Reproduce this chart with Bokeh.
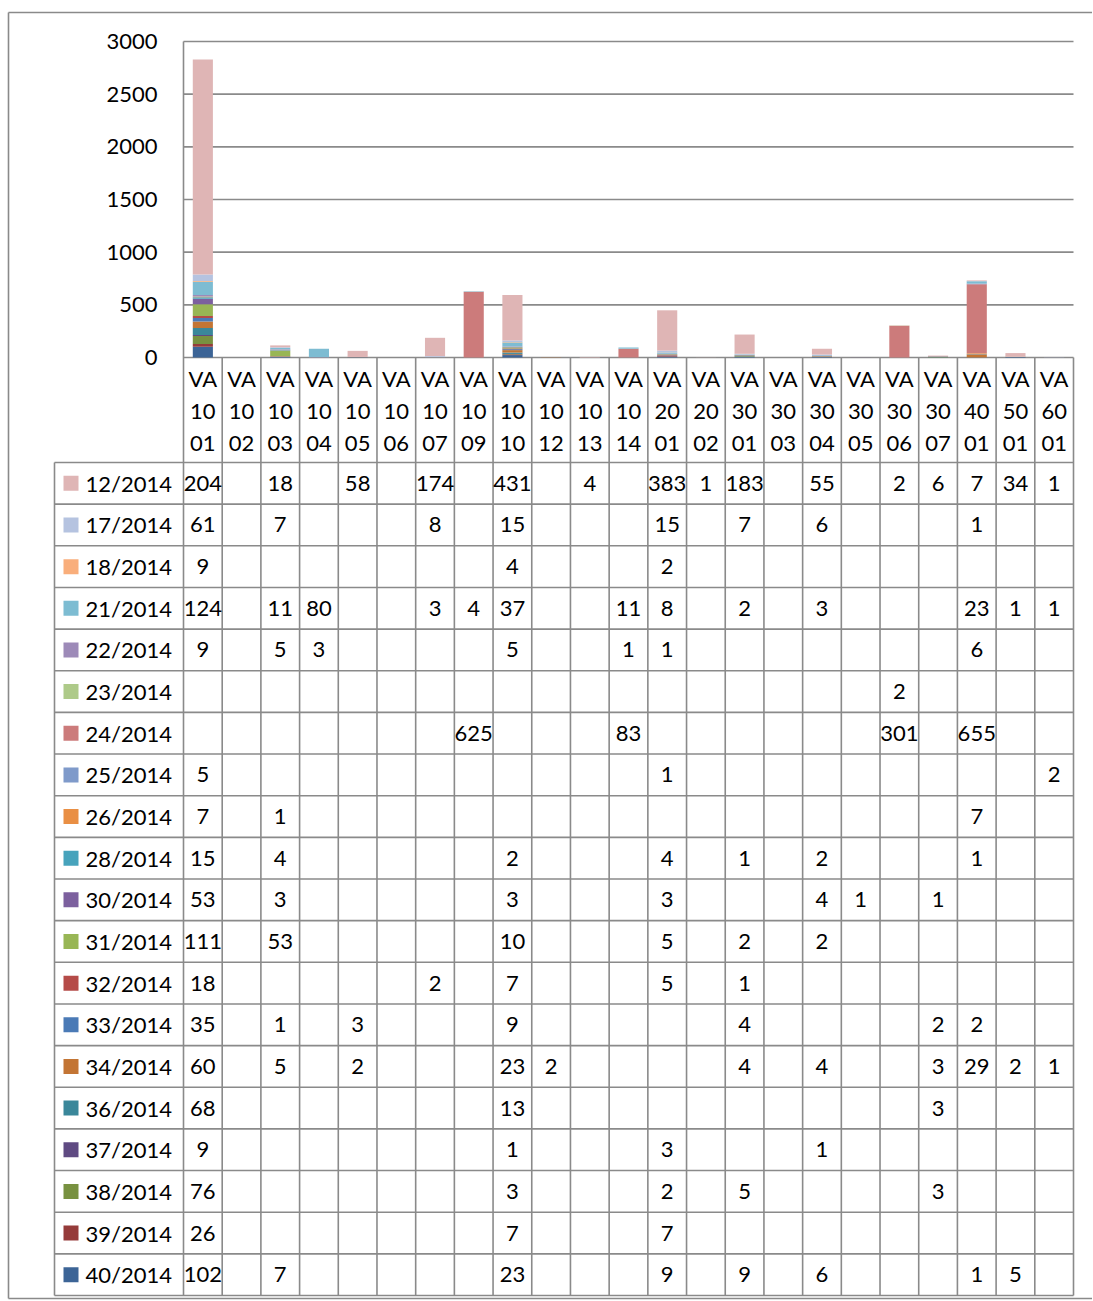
from bokeh.plotting import figure
from bokeh.models import ColumnDataSource, FixedTicker, Range1d
from bokeh.embed import file_html
from bokeh.resources import INLINE
from bokeh.core.properties import value

# ---------------- data ----------------
categories = ["VA1001", "VA1002", "VA1003", "VA1004", "VA1005", "VA1006", "VA1007",
              "VA1009", "VA1010", "VA1012", "VA1013", "VA1014", "VA2001", "VA2002",
              "VA3001", "VA3003", "VA3004", "VA3005", "VA3006", "VA3007", "VA4001",
              "VA5001", "VA6001"]

series_names = ["12/2014", "17/2014", "18/2014", "21/2014", "22/2014", "23/2014",
                "24/2014", "25/2014", "26/2014", "28/2014", "30/2014", "31/2014",
                "32/2014", "33/2014", "34/2014", "36/2014", "37/2014", "38/2014",
                "39/2014", "40/2014"]

w12 = [2040, 0, 18, 0, 58, 0, 174, 0, 431, 0, 4, 0, 383, 1, 183, 0, 55, 0, 2, 6, 7, 34, 1]
w17 = [61, 0, 7, 0, 0, 0, 8, 0, 15, 0, 0, 0, 15, 0, 7, 0, 6, 0, 0, 0, 1, 0, 0]
w18 = [9, 0, 0, 0, 0, 0, 0, 0, 4, 0, 0, 0, 2, 0, 0, 0, 0, 0, 0, 0, 0, 0, 0]
w21 = [124, 0, 11, 80, 0, 0, 3, 4, 37, 0, 0, 11, 8, 0, 2, 0, 3, 0, 0, 0, 23, 1, 1]
w22 = [9, 0, 5, 3, 0, 0, 0, 0, 5, 0, 0, 1, 1, 0, 0, 0, 0, 0, 0, 0, 6, 0, 0]
w23 = [0, 0, 0, 0, 0, 0, 0, 0, 0, 0, 0, 0, 0, 0, 0, 0, 0, 0, 2, 0, 0, 0, 0]
w24 = [0, 0, 0, 0, 0, 0, 0, 625, 0, 0, 0, 83, 0, 0, 0, 0, 0, 0, 301, 0, 655, 0, 0]
w25 = [5, 0, 0, 0, 0, 0, 0, 0, 0, 0, 0, 0, 1, 0, 0, 0, 0, 0, 0, 0, 0, 0, 2]
w26 = [7, 0, 1, 0, 0, 0, 0, 0, 0, 0, 0, 0, 0, 0, 0, 0, 0, 0, 0, 0, 7, 0, 0]
w28 = [15, 0, 4, 0, 0, 0, 0, 0, 2, 0, 0, 0, 4, 0, 1, 0, 2, 0, 0, 0, 1, 0, 0]
w30 = [53, 0, 3, 0, 0, 0, 0, 0, 3, 0, 0, 0, 3, 0, 0, 0, 4, 1, 0, 1, 0, 0, 0]
w31 = [111, 0, 53, 0, 0, 0, 0, 0, 10, 0, 0, 0, 5, 0, 2, 0, 2, 0, 0, 0, 0, 0, 0]
w32 = [18, 0, 0, 0, 0, 0, 2, 0, 7, 0, 0, 0, 5, 0, 1, 0, 0, 0, 0, 0, 0, 0, 0]
w33 = [35, 0, 1, 0, 3, 0, 0, 0, 9, 0, 0, 0, 0, 0, 4, 0, 0, 0, 0, 2, 2, 0, 0]
w34 = [60, 0, 5, 0, 2, 0, 0, 0, 23, 2, 0, 0, 0, 0, 4, 0, 4, 0, 0, 3, 29, 2, 1]
w36 = [68, 0, 0, 0, 0, 0, 0, 0, 13, 0, 0, 0, 0, 0, 0, 0, 0, 0, 0, 3, 0, 0, 0]
w37 = [9, 0, 0, 0, 0, 0, 0, 0, 1, 0, 0, 0, 3, 0, 0, 0, 1, 0, 0, 0, 0, 0, 0]
w38 = [76, 0, 0, 0, 0, 0, 0, 0, 3, 0, 0, 0, 2, 0, 5, 0, 0, 0, 0, 3, 0, 0, 0]
w39 = [26, 0, 0, 0, 0, 0, 0, 0, 7, 0, 0, 0, 7, 0, 0, 0, 0, 0, 0, 0, 0, 0, 0]
w40 = [102, 0, 7, 0, 0, 0, 0, 0, 23, 0, 0, 0, 9, 0, 9, 0, 6, 0, 0, 0, 1, 5, 0]

series_values = [w12, w17, w18, w21, w22, w23, w24, w25, w26, w28, w30, w31,
                 w32, w33, w34, w36, w37, w38, w39, w40]

colors = ["#DFB5B5", "#B5C3E0", "#F9AE7B", "#7DBCD2", "#9D8AB8", "#AECA89",
          "#CC7B7B", "#7F9ACA", "#E98F44", "#47A3BC", "#7C609E", "#98B655",
          "#B54B48", "#4A7AB6", "#C37534", "#3A879A", "#5F4A82", "#789140",
          "#953B3A", "#3C6496"]

y_ticks = [0, 500, 1000, 1500, 2000, 2500, 3000]

# ---------------- layout constants (page pixels) ----------------
FONT = value("Lato")
FS = "22px"
GRID = "#8a8a8a"
LW = 1.6
N = len(categories)
W, H = 1092, 1300
PLOT_L, PLOT_R = 183, 1073          # plot area left/right
Y0_PX, Y3000_PX = 357, 41           # pixel rows of value 0 and 3000
cw = (PLOT_R - PLOT_L) / N
ppu = (Y0_PX - Y3000_PX) / 3000.0
HEAD_BOT = 462                      # bottom of the category-label band
TAB_BOT = 1295
TAB_L = 54
rh = (TAB_BOT - HEAD_BOT) / len(series_names)


def px_x(px):
    return (px - PLOT_L) / cw


def py_y(py):
    return (Y0_PX - py) / ppu


p = figure(width=W, height=H, x_range=Range1d(px_x(0), px_x(W)),
           y_range=Range1d(py_y(H), py_y(0)),
           x_axis_location=None, y_axis_location="left",
           toolbar_location=None, output_backend="svg",
           min_border=0, outline_line_color=None)
p.background_fill_color = "white"
p.border_fill_color = "white"
p.grid.visible = False

# y axis (labels placed inside the chart area, right-aligned near x=158)
p.yaxis.ticker = FixedTicker(ticks=y_ticks)
p.yaxis.axis_line_color = None
p.yaxis.major_tick_line_color = None
p.yaxis.minor_tick_line_color = None
p.yaxis.major_tick_out = 0
p.yaxis.major_tick_in = 0
p.yaxis.major_label_standoff = -157
p.yaxis.major_label_text_font = "Lato"
p.yaxis.major_label_text_font_size = FS
p.yaxis.major_label_text_color = "black"

# outer chart border (left, top, bottom; it runs off the right edge)
bx0, bx1, by0, by1 = px_x(8), px_x(W + 5), py_y(12), py_y(1298)
p.segment(x0=[bx0, bx0, bx0], x1=[bx0, bx1, bx1],
          y0=[by0, by0, by1], y1=[by1, by0, by1],
          line_color=GRID, line_width=LW)

# horizontal gridlines of the plot area
p.segment(x0=[0] * len(y_ticks), x1=[N] * len(y_ticks), y0=y_ticks, y1=y_ticks,
          line_color=GRID, line_width=LW)

# stacked bars (40/2014 at the bottom, 12/2014 on top)
keys = ["s%d" % i for i in range(len(series_names))]
data = {"x": [i + 0.5 for i in range(N)]}
for k, vals in zip(keys, series_values):
    data[k] = vals
src = ColumnDataSource(data)
p.vbar_stack(keys[::-1], x="x", width=0.52, fill_color=colors[::-1],
             line_color=None, source=src)

# table grid
tb = py_y(TAB_BOT)
p.segment(x0=[0], x1=[0], y0=[y_ticks[-1]], y1=[tb], line_color=GRID, line_width=LW)
vx = [float(c) for c in range(1, N + 1)]
p.segment(x0=vx, x1=vx, y0=[0] * len(vx), y1=[tb] * len(vx),
          line_color=GRID, line_width=LW)
p.segment(x0=[px_x(TAB_L)], x1=[px_x(TAB_L)], y0=[py_y(HEAD_BOT)], y1=[tb],
          line_color=GRID, line_width=LW)
hy = [py_y(HEAD_BOT + k * rh) for k in range(len(series_names) + 1)]
p.segment(x0=[px_x(TAB_L)] * len(hy), x1=[float(N)] * len(hy), y0=hy, y1=hy,
          line_color=GRID, line_width=LW)

# category labels, wrapped on three lines like the original
cx = [i + 0.5 for i in range(N)]
for part, ypx in ((slice(0, 2), 378), (slice(2, 4), 411), (slice(4, 6), 443)):
    p.text(x=cx, y=[py_y(ypx)] * N, text=[c[part] for c in categories],
           text_font=FONT, text_font_size=FS, text_color="black",
           text_align="center", text_baseline="middle")

# legend keys + series names
ry = [py_y(HEAD_BOT + (r + 0.5) * rh) for r in range(len(series_names))]
p.rect(x=[px_x(70.5)] * len(ry), y=ry, width=15 / cw, height=15 / ppu,
       fill_color=colors, line_color=None)
p.text(x=[px_x(85)] * len(ry), y=ry, text=series_names, text_font=FONT,
       text_font_size=FS, text_color="black", text_align="left",
       text_baseline="middle")

# cell values (Excel clips text wider than a cell to 3 characters)
tx, ty, tt = [], [], []
for r, vals in enumerate(series_values):
    for c, v in enumerate(vals):
        if v:
            s = str(v)
            tx.append(c + 0.5)
            ty.append(ry[r])
            tt.append(s if len(s) <= 3 else s[:3])
p.text(x=tx, y=ty, text=tt, text_font=FONT, text_font_size=FS,
       text_color="black", text_align="center", text_baseline="middle")

open("out.html", "w").write(file_html(p, INLINE))
